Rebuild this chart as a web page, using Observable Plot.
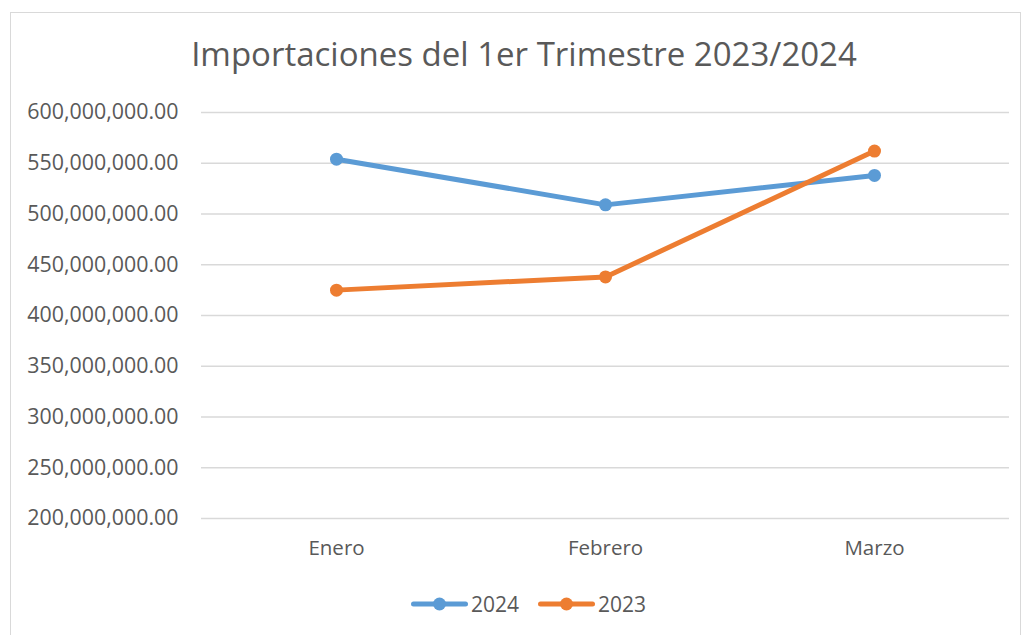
<!DOCTYPE html>
<html>
<head>
<meta charset="utf-8">
<script src="https://cdn.jsdelivr.net/npm/d3@7"></script>
<script src="https://cdn.jsdelivr.net/npm/@observablehq/plot@0.6"></script>
<style>
  html, body { margin: 0; padding: 0; background: #fff; }
  body { width: 1026px; height: 635px; position: relative; overflow: hidden; font-family: "Open Sans", sans-serif; }
  #frame { position: absolute; left: 10px; top: 12px; width: 1011px; height: 640px; border: 1.5px solid #d9d9d9; box-sizing: border-box; }
  #title { position: absolute; left: 10px; width: 1028px; top: 32px; text-align: center; font-size: 33px; line-height: 1.362; color: #595959; font-weight: 400; white-space: nowrap; }
  #chart { position: absolute; left: 0; top: 0; }
  #legend { position: absolute; left: 10px; width: 1037px; top: 590px; display: flex; justify-content: center; gap: 19px; font-size: 21px; line-height: 1.362; color: #595959; }
  .item { display: flex; align-items: center; gap: 3px; }
  .item svg { display: block; }
</style>
</head>
<body>
<div id="frame"></div>
<div id="title">Importaciones del 1er Trimestre 2023/2024</div>
<div id="chart"></div>
<div id="legend"></div>
<script>
const months = ["Enero", "Febrero", "Marzo"];
const series = ["2024", "2023"];
const values2024 = [554000000, 509000000, 538000000];
const values2023 = [425000000, 438000000, 562000000];
const yTicks = [200000000, 250000000, 300000000, 350000000, 400000000, 450000000, 500000000, 550000000, 600000000];
const colors = ["#5B9BD5", "#ED7D31"];

const data = [
  ...months.map((m, i) => ({month: m, series: "2024", value: values2024[i]})),
  ...months.map((m, i) => ({month: m, series: "2023", value: values2023[i]}))
];

const fmt = d3.format(",.2f");

const chart = Plot.plot({
  width: 1026,
  height: 580,
  marginLeft: 201,
  marginRight: 17,
  marginTop: 112,
  marginBottom: 62,
  style: { fontFamily: "Open Sans, sans-serif", fontSize: "20px", color: "#595959", background: "transparent" },
  x: { type: "point", domain: months, padding: 0.5, label: null },
  y: { domain: [200000000, 600000000], label: null },
  color: { domain: series, range: colors },
  marks: [
    Plot.ruleY(yTicks, { stroke: "#d9d9d9", strokeWidth: 1.5 }),
    Plot.axisY({ ticks: yTicks, tickFormat: fmt, tickSize: 0, tickPadding: 23, fontSize: 21.4, fill: "#595959" }),
    Plot.axisX({ tickSize: 0, tickPadding: 22, fontSize: 20.5, fill: "#595959" }),
    Plot.line(data, { x: "month", y: "value", z: "series", stroke: "series", strokeWidth: 5, strokeLinecap: "round", strokeLinejoin: "round" }),
    Plot.dot(data, { x: "month", y: "value", fill: "series", r: 6.5 })
  ]
});
document.getElementById("chart").appendChild(chart);

const legend = document.getElementById("legend");
series.forEach((s, i) => {
  const item = document.createElement("div");
  item.className = "item";
  item.innerHTML = `<svg width="57" height="16"><line x1="2.5" y1="8" x2="54.5" y2="8" stroke="${colors[i]}" stroke-width="5" stroke-linecap="round"/><circle cx="28.5" cy="8" r="6.5" fill="${colors[i]}"/></svg><span>${s}</span>`;
  legend.appendChild(item);
});
</script>
</body>
</html>
